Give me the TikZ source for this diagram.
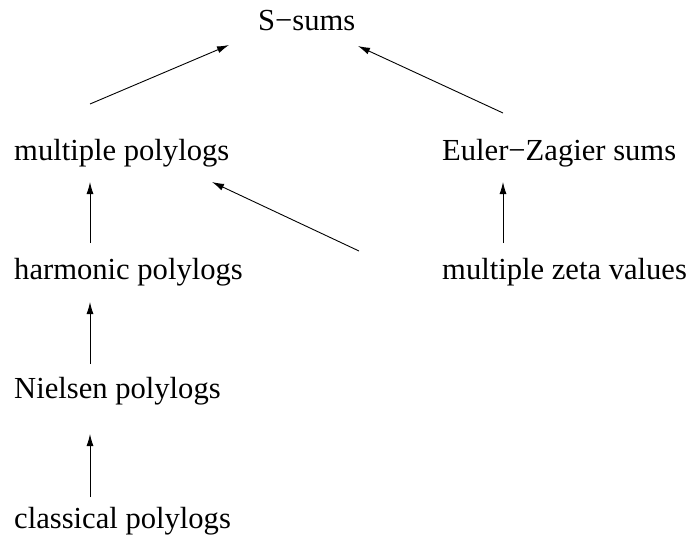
\documentclass[tikz,border=0pt]{standalone}
\usepackage{fontspec}
\setmainfont{Liberation Serif}
\usetikzlibrary{arrows.meta}
\begin{document}
\begin{tikzpicture}[x=1pt,y=-1pt,
  lbl/.style={anchor=base west,inner sep=0pt,font=\fontsize{30.6}{36}\selectfont},
  arr/.style={line width=0.9pt,-{Latex[length=12pt,width=7pt]}}]
\useasboundingbox (0,0) rectangle (692,541);
\node[lbl] (ss) at (258,30) {S−sums};
\node[lbl] (mp) at (14,160) {multiple polylogs};
\node[lbl] (ez) at (442,160) {Euler−Zagier sums};
\node[lbl] (hp) at (14,279) {harmonic polylogs};
\node[lbl] (mz) at (442,279) {multiple zeta values};
\node[lbl] (np) at (14,398) {Nielsen polylogs};
\node[lbl] (cp) at (14,528) {classical polylogs};
\coordinate (a1) at (90,104);  \coordinate (b1) at (229,45);
\coordinate (a2) at (503,113); \coordinate (b2) at (358,46);
\coordinate (a3) at (90,243);  \coordinate (b3) at (90,182);
\coordinate (a4) at (359,251); \coordinate (b4) at (212,182);
\coordinate (a5) at (503,243); \coordinate (b5) at (503,182);
\coordinate (a6) at (90,364);  \coordinate (b6) at (90,302);
\coordinate (a7) at (90,497);  \coordinate (b7) at (90,434);
\draw[arr] (a1) -- (b1);
\draw[arr] (a2) -- (b2);
\draw[arr] (a3) -- (b3);
\draw[arr] (a4) -- (b4);
\draw[arr] (a5) -- (b5);
\draw[arr] (a6) -- (b6);
\draw[arr] (a7) -- (b7);
\end{tikzpicture}
\end{document}
